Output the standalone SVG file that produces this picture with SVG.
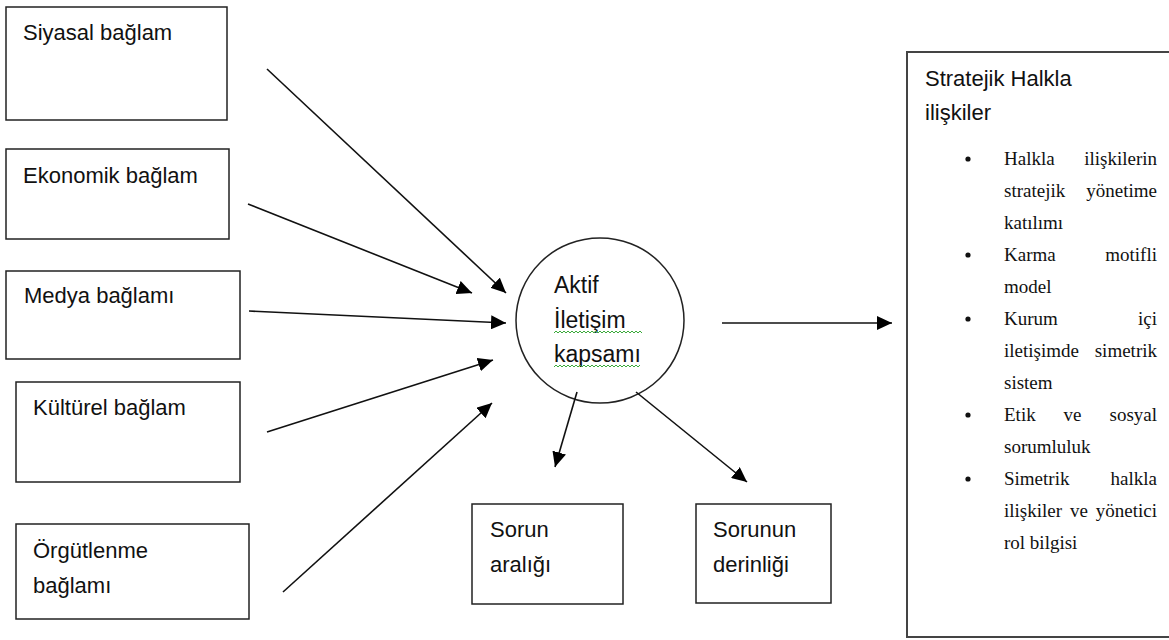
<svg xmlns="http://www.w3.org/2000/svg" width="1169" height="640" viewBox="0 0 1169 640">
<style>
.box{fill:#fff;stroke:#222;stroke-width:1.5}
.big{fill:#fff;stroke:#444;stroke-width:2}
.lbl{font-family:"Liberation Sans",Arial,sans-serif;font-size:22px;fill:#111}
.ser{font-family:"Liberation Serif","Times New Roman",serif;font-size:19px;fill:#111}
.con{stroke:#111;stroke-width:1.6;fill:none;marker-end:url(#ah)}
.sq{fill:none;stroke:#3aaa3a;stroke-width:1}
</style>
<defs>
<marker id="ah" markerUnits="userSpaceOnUse" markerWidth="15" markerHeight="14" refX="15" refY="7" orient="auto">
<path d="M0,0 L15,7 L0,14 z" fill="#000"/>
</marker>
</defs>
<rect width="1169" height="640" fill="#fff"/>
<g id="siyasal"><rect class="box" x="6" y="7" width="221" height="113"/><text class="lbl" x="23" y="40">Siyasal bağlam</text></g>
<g id="ekonomik"><rect class="box" x="6" y="149" width="223" height="90"/><text class="lbl" x="23" y="183">Ekonomik bağlam</text></g>
<g id="medya"><rect class="box" x="6" y="271" width="234" height="88"/><text class="lbl" x="24" y="303">Medya bağlamı</text></g>
<g id="kulturel"><rect class="box" x="16" y="382" width="224" height="100"/><text class="lbl" x="33" y="415">Kültürel bağlam</text></g>
<g id="orgutlenme"><rect class="box" x="16" y="524" width="233" height="95"/><text class="lbl" x="33" y="558">Örgütlenme</text><text class="lbl" x="33" y="593">bağlamı</text></g>
<g id="aktif"><ellipse cx="600" cy="320.5" rx="84" ry="82.5" fill="#fff" stroke="#222" stroke-width="1.5"/>
<text class="lbl" style="font-size:23px" x="554" y="293">Aktif</text>
<text class="lbl" style="font-size:23px" x="554" y="328">İletişim</text>
<text class="lbl" style="font-size:23px" x="554" y="362">kapsamı</text>
<path class="sq" d="M554,333 l2,-2 l2,2 l2,-2 l2,2 l2,-2 l2,2 l2,-2 l2,2 l2,-2 l2,2 l2,-2 l2,2 l2,-2 l2,2 l2,-2 l2,2 l2,-2 l2,2 l2,-2 l2,2 l2,-2 l2,2 l2,-2 l2,2 l2,-2 l2,2 l2,-2 l2,2 l2,-2 l2,2 l2,-2 l2,2 l2,-2 l2,2 l2,-2 l2,2 l2,-2 l2,2 l2,-2 l2,2 l2,-2 l2,2 l2,-2 l2,2"/>
<path class="sq" d="M554,367 l2,-2 l2,2 l2,-2 l2,2 l2,-2 l2,2 l2,-2 l2,2 l2,-2 l2,2 l2,-2 l2,2 l2,-2 l2,2 l2,-2 l2,2 l2,-2 l2,2 l2,-2 l2,2 l2,-2 l2,2 l2,-2 l2,2 l2,-2 l2,2 l2,-2 l2,2 l2,-2 l2,2 l2,-2 l2,2 l2,-2 l2,2 l2,-2 l2,2 l2,-2 l2,2 l2,-2 l2,2 l2,-2 l2,2 l2,-2"/>
</g>
<g id="sorun-araligi"><rect class="box" x="472" y="504" width="151" height="100"/><text class="lbl" x="490" y="537">Sorun</text><text class="lbl" x="490" y="572">aralığı</text></g>
<g id="sorunun-derinligi"><rect class="box" x="696" y="504" width="135" height="99"/><text class="lbl" x="713" y="537">Sorunun</text><text class="lbl" x="713" y="572">derinliği</text></g>
<g id="stratejik"><rect class="big" x="907" y="52" width="270" height="585"/>
<text class="lbl" x="925" y="86">Stratejik Halkla</text>
<text class="lbl" x="925" y="120">ilişkiler</text>
<g fill="#111"><circle cx="968" cy="159" r="2.6"/><circle cx="968" cy="255" r="2.6"/><circle cx="968" cy="319" r="2.6"/><circle cx="968" cy="415" r="2.6"/><circle cx="968" cy="479" r="2.6"/></g>
<text class="ser" x="1004" y="165">Halkla</text><text class="ser" x="1157" y="165" text-anchor="end">ilişkilerin</text>
<text class="ser" x="1004" y="197">stratejik</text><text class="ser" x="1157" y="197" text-anchor="end">yönetime</text>
<text class="ser" x="1004" y="229">katılımı</text>
<text class="ser" x="1004" y="261">Karma</text><text class="ser" x="1157" y="261" text-anchor="end">motifli</text>
<text class="ser" x="1004" y="293">model</text>
<text class="ser" x="1004" y="325">Kurum</text><text class="ser" x="1157" y="325" text-anchor="end">içi</text>
<text class="ser" x="1004" y="357">iletişimde</text><text class="ser" x="1157" y="357" text-anchor="end">simetrik</text>
<text class="ser" x="1004" y="389">sistem</text>
<text class="ser" x="1004" y="421">Etik</text><text class="ser" x="1072.5" y="421" text-anchor="middle">ve</text><text class="ser" x="1157" y="421" text-anchor="end">sosyal</text>
<text class="ser" x="1004" y="453">sorumluluk</text>
<text class="ser" x="1004" y="485">Simetrik</text><text class="ser" x="1157" y="485" text-anchor="end">halkla</text>
<text class="ser" x="1004" y="517">ilişkiler</text><text class="ser" x="1079" y="517" text-anchor="middle">ve</text><text class="ser" x="1157" y="517" text-anchor="end">yönetici</text>
<text class="ser" x="1004" y="549">rol bilgisi</text>
</g>
<g id="connectors">
<line class="con" x1="267" y1="69" x2="506" y2="293"/>
<line class="con" x1="248" y1="204" x2="472" y2="293"/>
<line class="con" x1="249" y1="311" x2="506" y2="323"/>
<line class="con" x1="267" y1="432" x2="493" y2="360"/>
<line class="con" x1="283" y1="592" x2="492" y2="403"/>
<line class="con" x1="722" y1="323" x2="892" y2="323"/>
<line class="con" x1="577" y1="392" x2="555" y2="467"/>
<line class="con" x1="636" y1="392" x2="747" y2="482"/>
</g>
</svg>
